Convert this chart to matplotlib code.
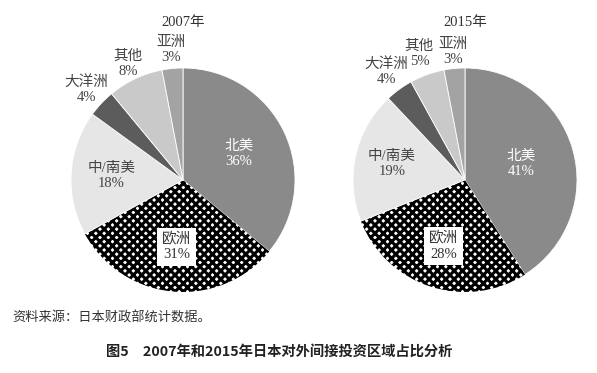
import numpy as np
import matplotlib.pyplot as plt

plt.rcParams['font.family'] = ['Liberation Serif', 'Noto Sans CJK SC']
plt.rcParams['hatch.linewidth'] = 2.2

regions = ["北美", "欧洲", "中/南美", "大洋洲", "其他", "亚洲"]
share_2007 = [36, 31, 18, 4, 8, 3]
share_2015 = [41, 28, 19, 4, 5, 3]
colors = ["#8a8a8a", "white", "#e6e6e6", "#5c5c5c", "#c9c9c9", "#a3a3a3"]
# label radius factor for each region
lab_r_2007 = [0.55, 0.6, 0.64, 1.18, 1.15, 1.17]
lab_r_2015 = [0.52, 0.62, 0.67, 1.2, 1.2, 1.15]
lab_col = ["white", "#333333", "#444444", "#444444", "#444444", "#444444"]

W, H = 597, 373
fig = plt.figure(figsize=(W/100, H/100), dpi=100)

R = 112  # px
lim = 1.05

def draw(cx, cy, vals, lab_r, year):
    w = 2*lim*R
    ax = fig.add_axes([(cx - lim*R)/W, (H - cy - lim*R)/H, w/W, w/H])
    wedges, _ = ax.pie(vals, colors=colors, startangle=90, counterclock=False,
                       radius=1, wedgeprops=dict(edgecolor="white", linewidth=0.6))
    eu = wedges[1]
    eu.set_facecolor("white")
    eu.set_edgecolor("black")
    eu.set_hatch("xxxx")
    eu.set_linewidth(0)
    ax.set_xlim(-lim, lim); ax.set_ylim(-lim, lim)
    ax.set_aspect("equal"); ax.axis("off")
    for i, wd in enumerate(wedges):
        th = np.deg2rad((wd.theta1 + wd.theta2)/2)
        x = lab_r[i]*np.cos(th); y = lab_r[i]*np.sin(th)
        kw = {}
        if i == 1:
            kw["bbox"] = dict(facecolor="white", edgecolor="none", pad=3.5)
        ax.text(x, y, regions[i] + "\n" + str(vals[i]) + "%", ha="center", va="center",
                fontsize=10.5, color=lab_col[i], linespacing=1.2, **kw)
    ax.text(0, 1.41, year + "年", ha="center", va="center", fontsize=10.5, color="#333333")

draw(183, 180, share_2007, lab_r_2007, "2007")
draw(465, 180, share_2015, lab_r_2015, "2015")

fig.text(12/W, 1 - 318/H, "资料来源：日本财政部统计数据。", ha="left", va="center",
         fontsize=9.5, color="#333333", family=['Noto Sans CJK SC'])
fig.text(279/W, 1 - 352/H, "图5　2007年和2015年日本对外间接投资区域占比分析", ha="center", va="center",
         fontsize=10.3, fontweight="bold", color="#222222", family=['Noto Sans CJK SC'])

fig.savefig("out.png", dpi=100)
